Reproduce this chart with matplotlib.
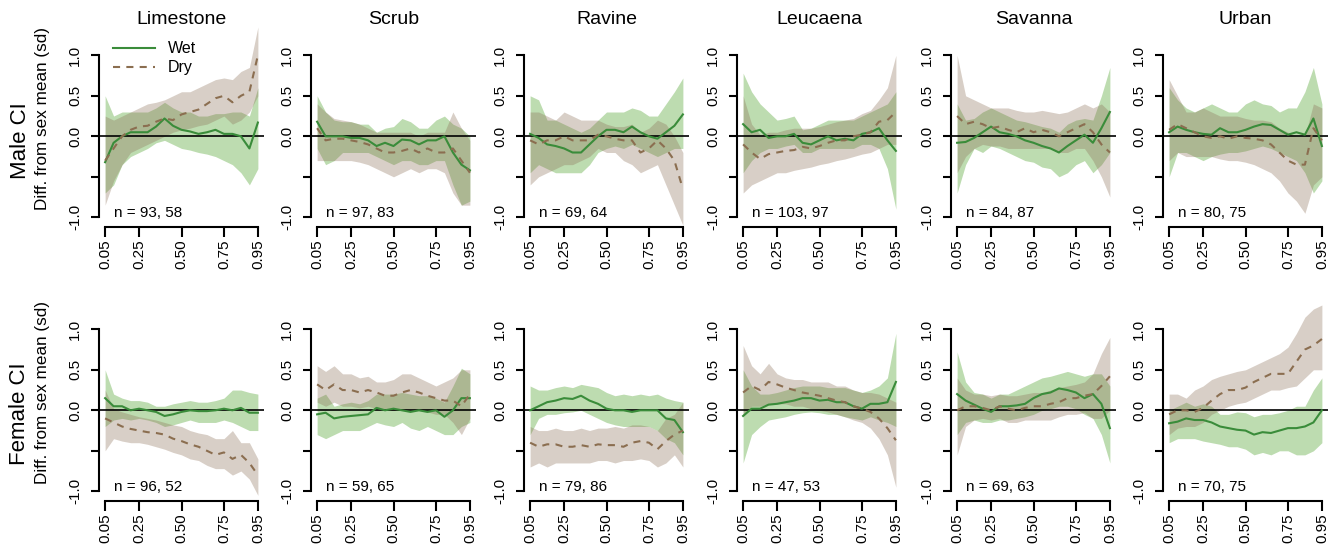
import matplotlib
matplotlib.use("Agg")
import matplotlib.pyplot as plt
import numpy as np

plt.rcParams['font.family'] = ['Liberation Sans', 'DejaVu Sans']

quantiles = [0.05, 0.10, 0.15, 0.20, 0.25, 0.30, 0.35, 0.40, 0.45, 0.50,
             0.55, 0.60, 0.65, 0.70, 0.75, 0.80, 0.85, 0.90, 0.95]
habitats = ["Limestone", "Scrub", "Ravine", "Leucaena", "Savanna", "Urban"]
row_labels = ["Male CI", "Female CI"]
x_ticks = [0.05, 0.25, 0.50, 0.75, 0.95]
x_tick_labels = ["0.05", "0.25", "0.50", "0.75", "0.95"]
y_ticks = [-1.0, -0.5, 0.0, 0.5, 1.0]
y_tick_labels = ["-1.0", "", "0.0", "0.5", "1.0"]
n_male = ["n = 93, 58", "n = 97, 83", "n = 69, 64", "n = 103, 97", "n = 84, 87", "n = 80, 75"]
n_female = ["n = 96, 52", "n = 59, 65", "n = 79, 86", "n = 47, 53", "n = 69, 63", "n = 70, 75"]

# ---------------- Male ----------------
lime_m_wet    = [-0.32,-0.08,0.00,0.05,0.05,0.05,0.12,0.22,0.13,0.08,0.06,0.03,0.05,0.08,0.03,0.03,0.00,-0.15,0.17]
lime_m_wet_lo = [-0.70,-0.60,-0.35,-0.25,-0.20,-0.15,-0.08,-0.05,-0.10,-0.15,-0.17,-0.20,-0.22,-0.25,-0.30,-0.35,-0.45,-0.60,-0.40]
lime_m_wet_hi = [0.50,0.25,0.30,0.30,0.30,0.30,0.35,0.42,0.35,0.30,0.30,0.25,0.25,0.28,0.28,0.30,0.30,0.25,0.60]
lime_m_dry    = [-0.30,-0.15,0.00,0.08,0.12,0.13,0.18,0.22,0.20,0.27,0.30,0.33,0.40,0.47,0.50,0.42,0.50,0.55,1.00]
lime_m_dry_lo = [-0.85,-0.55,-0.35,-0.20,-0.15,-0.10,-0.05,0.00,0.05,0.08,0.10,0.13,0.15,0.20,0.25,0.15,0.20,0.30,0.50]
lime_m_dry_hi = [0.25,0.20,0.25,0.30,0.35,0.40,0.42,0.45,0.50,0.55,0.55,0.60,0.65,0.70,0.72,0.70,0.80,0.85,1.35]

scrub_m_wet    = [0.18,0.00,0.00,0.00,-0.02,-0.02,-0.05,-0.12,-0.08,-0.12,-0.04,-0.05,-0.10,-0.05,-0.05,0.00,-0.20,-0.35,-0.42]
scrub_m_wet_lo = [-0.15,-0.35,-0.30,-0.20,-0.20,-0.20,-0.20,-0.25,-0.30,-0.35,-0.30,-0.30,-0.35,-0.35,-0.30,-0.30,-0.60,-0.85,-0.80]
scrub_m_wet_hi = [0.50,0.30,0.20,0.18,0.18,0.15,0.15,0.05,0.10,0.12,0.22,0.18,0.10,0.10,0.20,0.25,0.15,0.10,0.00]
scrub_m_dry    = [0.10,-0.05,-0.03,-0.03,-0.05,-0.07,-0.10,-0.15,-0.20,-0.20,-0.18,-0.15,-0.20,-0.15,-0.20,-0.20,-0.15,-0.30,-0.45]
scrub_m_dry_lo = [-0.30,-0.30,-0.30,-0.30,-0.30,-0.32,-0.35,-0.40,-0.45,-0.50,-0.45,-0.40,-0.45,-0.40,-0.40,-0.45,-0.70,-0.85,-0.85]
scrub_m_dry_hi = [0.40,0.30,0.22,0.20,0.18,0.15,0.10,0.05,0.05,0.05,0.05,0.05,0.00,0.05,0.05,0.05,0.30,0.10,-0.05]

rav_m_wet    = [0.03,-0.02,-0.10,-0.12,-0.15,-0.20,-0.20,-0.10,0.00,0.08,0.08,0.05,0.12,0.05,0.00,-0.03,0.05,0.13,0.27]
rav_m_wet_lo = [-0.45,-0.35,-0.40,-0.45,-0.45,-0.45,-0.45,-0.35,-0.20,-0.15,-0.12,-0.15,-0.10,-0.15,-0.20,-0.25,-0.20,-0.15,-0.15]
rav_m_wet_hi = [0.50,0.45,0.20,0.20,0.15,0.10,0.05,0.10,0.20,0.30,0.30,0.30,0.35,0.32,0.25,0.25,0.40,0.55,0.72]
rav_m_dry    = [-0.05,-0.10,-0.05,-0.05,0.00,-0.05,-0.05,-0.05,0.02,0.00,-0.03,-0.05,-0.05,-0.20,-0.15,-0.05,-0.15,-0.30,-0.65]
rav_m_dry_lo = [-0.60,-0.50,-0.45,-0.40,-0.35,-0.35,-0.30,-0.25,-0.15,-0.20,-0.20,-0.30,-0.35,-0.45,-0.40,-0.35,-0.60,-0.85,-1.10]
rav_m_dry_hi = [0.30,0.30,0.25,0.20,0.30,0.25,0.20,0.20,0.20,0.15,0.12,0.12,0.15,0.05,0.10,0.20,0.15,0.00,-0.20]

leu_m_wet    = [0.15,0.05,0.08,-0.02,0.00,0.00,0.03,-0.08,-0.10,-0.05,0.00,-0.05,-0.03,-0.05,0.03,0.05,0.10,-0.05,-0.18]
leu_m_wet_lo = [-0.45,-0.30,-0.20,-0.15,-0.15,-0.12,-0.10,-0.20,-0.20,-0.15,-0.15,-0.15,-0.15,-0.15,-0.10,-0.10,-0.15,-0.40,-0.90]
leu_m_wet_hi = [0.78,0.55,0.40,0.30,0.20,0.22,0.25,0.08,0.10,0.15,0.20,0.20,0.20,0.20,0.25,0.30,0.35,0.40,0.55]
leu_m_dry    = [-0.10,-0.20,-0.28,-0.22,-0.20,-0.18,-0.17,-0.13,-0.15,-0.12,-0.08,-0.05,-0.05,0.00,0.02,0.05,0.18,0.20,0.30]
leu_m_dry_lo = [-0.70,-0.60,-0.55,-0.50,-0.45,-0.45,-0.42,-0.40,-0.38,-0.35,-0.33,-0.30,-0.28,-0.25,-0.22,-0.20,-0.15,-0.10,-0.10]
leu_m_dry_hi = [0.50,0.15,0.02,0.05,0.05,0.08,0.10,0.10,0.10,0.12,0.15,0.18,0.20,0.22,0.28,0.32,0.45,0.60,1.00]

sav_m_wet    = [-0.08,-0.07,-0.02,0.05,0.12,0.05,0.03,0.00,-0.05,-0.08,-0.12,-0.15,-0.20,-0.12,-0.05,0.02,-0.08,0.10,0.30]
sav_m_wet_lo = [-0.70,-0.35,-0.15,-0.20,-0.12,-0.15,-0.20,-0.25,-0.30,-0.32,-0.38,-0.40,-0.50,-0.45,-0.35,-0.30,-0.45,-0.35,-0.20]
sav_m_wet_hi = [0.40,0.20,0.22,0.30,0.35,0.30,0.25,0.20,0.18,0.15,0.12,0.10,0.05,0.15,0.20,0.22,0.20,0.50,0.85]
sav_m_dry    = [0.25,0.15,0.18,0.15,0.10,0.12,0.08,0.05,0.10,0.05,0.08,0.05,0.00,0.05,0.10,0.15,0.05,-0.10,-0.20]
sav_m_dry_lo = [-0.45,-0.25,-0.15,-0.10,-0.12,-0.12,-0.15,-0.15,-0.15,-0.15,-0.15,-0.15,-0.20,-0.20,-0.15,-0.15,-0.30,-0.50,-0.75]
sav_m_dry_hi = [1.00,0.50,0.45,0.40,0.35,0.35,0.35,0.32,0.30,0.30,0.32,0.30,0.28,0.30,0.35,0.40,0.35,0.40,0.30]

urb_m_wet    = [0.05,0.12,0.08,0.05,0.03,0.02,0.10,0.05,0.05,0.08,0.12,0.15,0.14,0.08,0.02,0.05,0.02,0.22,-0.12]
urb_m_wet_lo = [-0.50,-0.20,-0.20,-0.25,-0.30,-0.25,-0.22,-0.20,-0.20,-0.18,-0.15,-0.12,-0.15,-0.20,-0.25,-0.30,-0.45,-0.70,-0.55]
urb_m_wet_hi = [0.60,0.45,0.35,0.30,0.35,0.40,0.35,0.30,0.30,0.40,0.45,0.40,0.38,0.30,0.35,0.35,0.55,0.85,0.40]
urb_m_dry    = [0.08,0.15,0.10,0.05,0.00,-0.02,0.00,-0.03,0.00,-0.02,-0.03,-0.05,-0.10,-0.20,-0.30,-0.35,-0.35,0.10,-0.05]
urb_m_dry_lo = [-0.30,-0.20,-0.25,-0.25,-0.25,-0.25,-0.28,-0.30,-0.30,-0.32,-0.35,-0.40,-0.45,-0.55,-0.70,-0.80,-0.95,-0.60,-0.50]
urb_m_dry_hi = [0.70,0.50,0.30,0.30,0.35,0.30,0.25,0.25,0.25,0.22,0.20,0.20,0.18,0.10,0.05,0.00,0.00,0.40,0.35]

# ---------------- Female ----------------
lime_f_wet    = [0.15,0.05,0.05,0.00,0.02,0.00,-0.02,-0.07,-0.05,-0.02,0.00,-0.01,-0.01,0.00,0.02,0.00,0.03,-0.03,-0.03]
lime_f_wet_lo = [-0.20,-0.12,-0.10,-0.12,-0.10,-0.12,-0.15,-0.20,-0.18,-0.15,-0.12,-0.15,-0.15,-0.15,-0.12,-0.15,-0.20,-0.25,-0.25]
lime_f_wet_hi = [0.50,0.20,0.15,0.12,0.12,0.10,0.05,0.05,0.08,0.10,0.12,0.10,0.10,0.12,0.15,0.25,0.25,0.22,0.20]
lime_f_dry    = [-0.10,-0.15,-0.20,-0.23,-0.25,-0.27,-0.28,-0.30,-0.35,-0.38,-0.42,-0.45,-0.50,-0.55,-0.52,-0.60,-0.55,-0.65,-0.80]
lime_f_dry_lo = [-0.50,-0.35,-0.38,-0.40,-0.40,-0.42,-0.45,-0.48,-0.52,-0.55,-0.60,-0.62,-0.68,-0.72,-0.72,-0.80,-0.75,-0.85,-1.05]
lime_f_dry_hi = [0.25,0.02,-0.02,-0.05,-0.08,-0.10,-0.12,-0.15,-0.18,-0.20,-0.25,-0.28,-0.30,-0.35,-0.35,-0.25,-0.40,-0.40,-0.60]

scrub_f_wet    = [-0.05,-0.03,-0.10,-0.08,-0.07,-0.06,-0.05,0.03,0.00,0.02,0.00,-0.02,0.00,-0.02,0.00,-0.08,0.00,0.15,0.15]
scrub_f_wet_lo = [-0.30,-0.35,-0.30,-0.25,-0.25,-0.25,-0.20,-0.15,-0.18,-0.20,-0.15,-0.22,-0.25,-0.20,-0.25,-0.30,-0.30,-0.20,-0.15]
scrub_f_wet_hi = [0.15,0.20,0.05,0.08,0.10,0.08,0.12,0.20,0.20,0.20,0.22,0.20,0.18,0.18,0.15,0.10,0.30,0.52,0.45]
scrub_f_dry    = [0.32,0.25,0.32,0.25,0.25,0.22,0.25,0.22,0.18,0.18,0.22,0.25,0.22,0.18,0.15,0.12,0.12,0.05,0.20]
scrub_f_dry_lo = [0.10,0.05,0.10,0.05,0.05,0.03,0.05,0.02,0.00,0.00,0.00,0.02,0.00,-0.02,-0.05,-0.05,-0.15,-0.30,-0.10]
scrub_f_dry_hi = [0.55,0.48,0.55,0.45,0.45,0.40,0.42,0.35,0.35,0.38,0.45,0.45,0.40,0.35,0.30,0.35,0.40,0.50,0.50]

rav_f_wet    = [0.00,0.05,0.10,0.12,0.15,0.14,0.18,0.12,0.08,0.02,0.00,0.00,-0.02,0.00,0.00,0.00,-0.10,-0.12,-0.27]
rav_f_wet_lo = [-0.30,-0.10,-0.05,-0.05,-0.03,-0.02,0.00,-0.05,-0.10,-0.15,-0.18,-0.20,-0.20,-0.20,-0.20,-0.25,-0.35,-0.40,-0.55]
rav_f_wet_hi = [0.30,0.25,0.25,0.28,0.30,0.28,0.32,0.30,0.28,0.22,0.18,0.20,0.18,0.20,0.18,0.20,0.15,0.12,0.10]
rav_f_dry    = [-0.40,-0.45,-0.42,-0.42,-0.45,-0.45,-0.43,-0.45,-0.42,-0.43,-0.43,-0.45,-0.40,-0.38,-0.40,-0.48,-0.38,-0.30,-0.25]
rav_f_dry_lo = [-0.70,-0.65,-0.70,-0.65,-0.65,-0.65,-0.65,-0.65,-0.62,-0.62,-0.65,-0.62,-0.62,-0.60,-0.62,-0.70,-0.65,-0.55,-0.70]
rav_f_dry_hi = [-0.20,-0.25,-0.25,-0.22,-0.25,-0.25,-0.22,-0.25,-0.22,-0.22,-0.20,-0.22,-0.18,-0.18,-0.20,-0.25,-0.10,-0.05,0.10]

leu_f_wet    = [-0.07,0.02,0.02,0.07,0.08,0.10,0.12,0.15,0.15,0.12,0.13,0.10,0.10,0.05,0.02,0.08,0.08,0.10,0.35]
leu_f_wet_lo = [-0.65,-0.30,-0.20,-0.12,-0.10,-0.08,-0.05,-0.03,-0.02,-0.03,-0.05,-0.05,-0.08,-0.10,-0.12,-0.08,-0.12,-0.15,-0.20]
leu_f_wet_hi = [0.50,0.30,0.20,0.20,0.22,0.25,0.28,0.30,0.30,0.30,0.28,0.28,0.28,0.25,0.22,0.25,0.30,0.40,0.95]
leu_f_dry    = [0.22,0.30,0.25,0.35,0.32,0.28,0.25,0.22,0.20,0.18,0.15,0.12,0.10,0.05,0.02,-0.02,-0.10,-0.22,-0.37]
leu_f_dry_lo = [-0.05,0.05,0.05,0.08,0.08,0.08,0.05,0.05,0.02,0.00,-0.02,-0.05,-0.08,-0.12,-0.15,-0.22,-0.35,-0.55,-0.95]
leu_f_dry_hi = [0.80,0.55,0.45,0.58,0.45,0.40,0.38,0.38,0.35,0.35,0.35,0.30,0.30,0.25,0.22,0.22,0.20,0.15,0.10]

sav_f_wet    = [0.20,0.12,0.07,0.02,-0.02,0.05,0.05,0.06,0.08,0.15,0.20,0.22,0.27,0.25,0.22,0.15,0.20,0.08,-0.22]
sav_f_wet_lo = [-0.30,-0.15,-0.12,-0.15,-0.15,-0.12,-0.12,-0.10,-0.08,-0.05,0.00,0.02,0.05,0.05,0.02,-0.05,-0.10,-0.30,-0.65]
sav_f_wet_hi = [0.72,0.35,0.22,0.20,0.15,0.20,0.20,0.25,0.30,0.35,0.40,0.42,0.45,0.48,0.45,0.42,0.45,0.45,0.30]
sav_f_dry    = [0.00,0.05,0.05,0.03,0.00,0.05,0.02,0.00,0.03,0.05,0.05,0.08,0.10,0.15,0.15,0.18,0.20,0.30,0.42]
sav_f_dry_lo = [-0.55,-0.20,-0.12,-0.10,-0.12,-0.10,-0.15,-0.15,-0.12,-0.12,-0.12,-0.12,-0.08,-0.05,-0.05,-0.03,-0.10,-0.10,0.00]
sav_f_dry_hi = [0.40,0.25,0.20,0.20,0.18,0.20,0.18,0.18,0.20,0.22,0.22,0.25,0.28,0.30,0.32,0.35,0.45,0.70,0.90]

urb_f_wet    = [-0.16,-0.14,-0.10,-0.12,-0.12,-0.15,-0.20,-0.22,-0.24,-0.25,-0.30,-0.27,-0.28,-0.25,-0.22,-0.22,-0.20,-0.15,0.00]
urb_f_wet_lo = [-0.40,-0.35,-0.35,-0.35,-0.38,-0.40,-0.42,-0.45,-0.45,-0.48,-0.55,-0.52,-0.55,-0.50,-0.50,-0.55,-0.55,-0.50,-0.40]
urb_f_wet_hi = [0.00,0.05,0.10,0.05,0.08,0.05,-0.05,-0.05,-0.02,-0.03,-0.08,-0.05,-0.05,-0.03,0.00,0.05,0.05,0.25,0.40]
urb_f_dry    = [-0.05,0.00,0.00,-0.02,0.03,0.12,0.20,0.25,0.25,0.28,0.35,0.40,0.45,0.45,0.45,0.60,0.75,0.80,0.88]
urb_f_dry_lo = [-0.30,-0.22,-0.20,-0.20,-0.15,-0.05,0.00,0.05,0.08,0.10,0.15,0.20,0.25,0.25,0.28,0.30,0.40,0.50,0.50]
urb_f_dry_hi = [0.20,0.20,0.15,0.25,0.30,0.38,0.42,0.45,0.48,0.50,0.55,0.60,0.65,0.70,0.78,0.95,1.15,1.25,1.30]

male_panels = [
    (lime_m_wet, lime_m_wet_lo, lime_m_wet_hi, lime_m_dry, lime_m_dry_lo, lime_m_dry_hi),
    (scrub_m_wet, scrub_m_wet_lo, scrub_m_wet_hi, scrub_m_dry, scrub_m_dry_lo, scrub_m_dry_hi),
    (rav_m_wet, rav_m_wet_lo, rav_m_wet_hi, rav_m_dry, rav_m_dry_lo, rav_m_dry_hi),
    (leu_m_wet, leu_m_wet_lo, leu_m_wet_hi, leu_m_dry, leu_m_dry_lo, leu_m_dry_hi),
    (sav_m_wet, sav_m_wet_lo, sav_m_wet_hi, sav_m_dry, sav_m_dry_lo, sav_m_dry_hi),
    (urb_m_wet, urb_m_wet_lo, urb_m_wet_hi, urb_m_dry, urb_m_dry_lo, urb_m_dry_hi),
]
female_panels = [
    (lime_f_wet, lime_f_wet_lo, lime_f_wet_hi, lime_f_dry, lime_f_dry_lo, lime_f_dry_hi),
    (scrub_f_wet, scrub_f_wet_lo, scrub_f_wet_hi, scrub_f_dry, scrub_f_dry_lo, scrub_f_dry_hi),
    (rav_f_wet, rav_f_wet_lo, rav_f_wet_hi, rav_f_dry, rav_f_dry_lo, rav_f_dry_hi),
    (leu_f_wet, leu_f_wet_lo, leu_f_wet_hi, leu_f_dry, leu_f_dry_lo, leu_f_dry_hi),
    (sav_f_wet, sav_f_wet_lo, sav_f_wet_hi, sav_f_dry, sav_f_dry_lo, sav_f_dry_hi),
    (urb_f_wet, urb_f_wet_lo, urb_f_wet_hi, urb_f_dry, urb_f_dry_lo, urb_f_dry_hi),
]

# ---------------- styling ----------------
W, H = 1338, 552
wet_line = '#3a8c3a'
wet_fill = '#5aa83a'
dry_line = '#8b6e50'
dry_fill = '#8b6e55'
fill_alpha_wet = 0.40
fill_alpha_dry = 0.33

fig = plt.figure(figsize=(W / 100, H / 100), dpi=100)

col_left_px = [99, 311, 524, 737, 951, 1163]
ax_w_px = 165
ylo, yhi = -1.12, 1.45
px_per_unit = 81
zero_px = [136.3, 410.3]

for r, panels in enumerate([male_panels, female_panels]):
    bottom_px = zero_px[r] + (-ylo) * px_per_unit
    h_px = (yhi - ylo) * px_per_unit
    for c, pdata in enumerate(panels):
        wet, wet_lo, wet_hi, dry, dry_lo, dry_hi = pdata
        ax = fig.add_axes([col_left_px[c] / W, 1 - bottom_px / H, ax_w_px / W, h_px / H])
        ax.set_xlim(0.014, 0.986)
        ax.set_ylim(ylo, yhi)
        ax.fill_between(quantiles, wet_lo, wet_hi, color=wet_fill, alpha=fill_alpha_wet, lw=0)
        ax.fill_between(quantiles, dry_lo, dry_hi, color=dry_fill, alpha=fill_alpha_dry, lw=0)
        ax.axhline(0, color='black', lw=1.2, zorder=3)
        ax.plot(quantiles, wet, color=wet_line, lw=1.5, zorder=4, label='Wet')
        ax.plot(quantiles, dry, color=dry_line, lw=1.5, ls=(0, (3.4, 3.0)), zorder=4, label='Dry')

        for s in ['top', 'right']:
            ax.spines[s].set_visible(False)
        ax.spines['left'].set_bounds(-1, 1)
        ax.spines['bottom'].set_bounds(0.05, 0.95)
        ax.spines['left'].set_linewidth(1.5)
        ax.spines['bottom'].set_linewidth(1.5)
        ax.set_xticks(x_ticks)
        ax.set_xticklabels(x_tick_labels, rotation=90, fontsize=11)
        ax.set_yticks(y_ticks)
        ax.set_yticklabels(y_tick_labels, rotation=90, va='center', fontsize=11)
        ax.tick_params(axis='x', length=7, width=1.5, pad=2)
        ax.tick_params(axis='y', length=6, width=1.5, pad=6)
        ax.patch.set_alpha(0)

        ntxt = n_male[c] if r == 0 else n_female[c]
        ax.text(0.105, -0.95, ntxt, ha='left', va='center', fontsize=11)

        if r == 0:
            fig.text((col_left_px[c] + ax_w_px / 2) / W, 1 - 20 / H, habitats[c],
                     ha='center', va='center', fontsize=14)
        if r == 0 and c == 0:
            ax.legend(loc='upper left', bbox_to_anchor=(0.02, 0.945), frameon=False,
                      fontsize=11.5, handlelength=2.6, handletextpad=0.8,
                      labelspacing=0.25, borderpad=0.2)

fig.text(20 / W, 1 - 141 / H, row_labels[0], rotation=90, ha='center', va='center', fontsize=16)
fig.text(20 / W, 1 - 414 / H, row_labels[1], rotation=90, ha='center', va='center', fontsize=16)
fig.text(43 / W, 1 - 119 / H, "Diff. from sex mean (sd)", rotation=90, ha='center', va='center', fontsize=12.3)
fig.text(43 / W, 1 - 393 / H, "Diff. from sex mean (sd)", rotation=90, ha='center', va='center', fontsize=12.3)

fig.savefig("out.png", dpi=100)
